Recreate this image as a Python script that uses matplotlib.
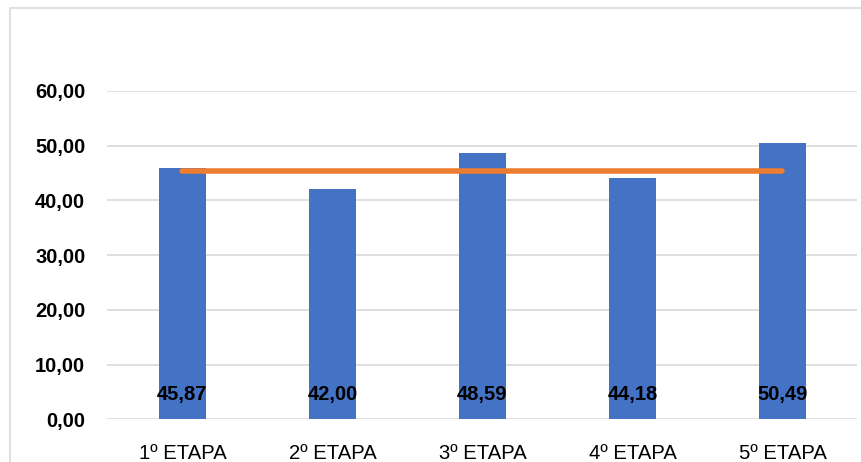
import matplotlib
matplotlib.use("Agg")
import matplotlib.pyplot as plt
from matplotlib.patches import Rectangle

plt.rcParams['font.family'] = ['Liberation Sans', 'DejaVu Sans']

# data
etapas = ["1º ETAPA", "2º ETAPA", "3º ETAPA", "4º ETAPA", "5º ETAPA"]
valores = [45.87, 42.00, 48.59, 44.18, 50.49]
media = [45.4, 45.4, 45.4, 45.4, 45.4]
yticks = [0, 10, 20, 30, 40, 50, 60]

fig = plt.figure(figsize=(8.62, 4.62), dpi=100)
ax = fig.add_axes([107.5 / 862, (462 - 419.3) / 462, 750 / 862, (419.3 - 91) / 462])

# chart border (light grey, clipped by image edge)
fig.patches.append(Rectangle((10 / 862, -0.1), 1.0, (462 - 8.5) / 462 + 0.1,
                             transform=fig.transFigure, fill=False,
                             edgecolor="#D9D9D9", linewidth=1.2))

x = range(len(etapas))
ax.bar(x, valores, width=0.313, color="#4472C4", zorder=2)
ax.plot(x, media, color="#ED7D31", linewidth=4, solid_capstyle="round", zorder=3)

for xi, v in zip(x, valores):
    ax.annotate(("%.2f" % v).replace(".", ","), (xi, 0), xytext=(0, 17.5),
                textcoords="offset points", ha="center", va="center",
                fontweight="bold", fontsize=14.5, color="black", zorder=4)

ax.set_xlim(-0.5, 4.5)
ax.set_ylim(0, 60)
ax.set_yticks(yticks)
ax.set_yticklabels([("%.2f" % t).replace(".", ",") for t in yticks],
                   fontweight="bold", fontsize=14.5)
ax.set_xticks(list(x))
ax.set_xticklabels(etapas, fontsize=14.6)
ax.tick_params(axis="both", length=0)
ax.tick_params(axis="x", pad=17.5)
ax.tick_params(axis="y", pad=16)

ax.yaxis.grid(True, color="#D9D9D9", linewidth=1.2, zorder=0)
ax.set_axisbelow(True)
for s in ax.spines.values():
    s.set_visible(False)

fig.savefig("out.png", dpi=100)
